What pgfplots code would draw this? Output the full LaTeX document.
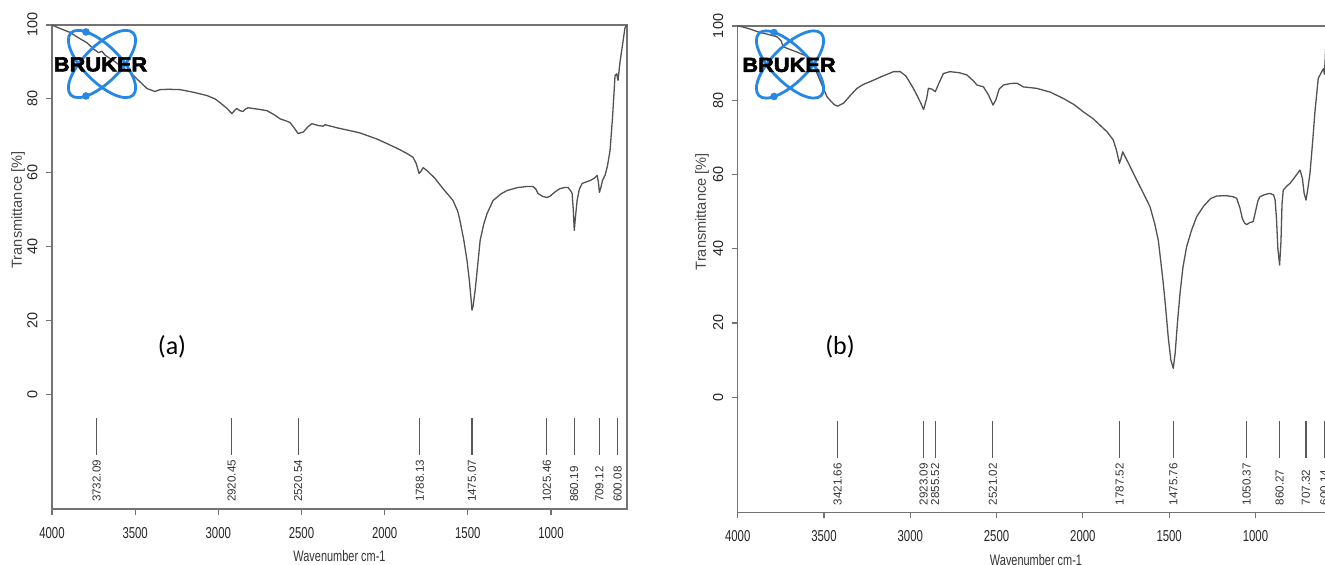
\documentclass[border=0pt]{standalone}
\usepackage{fontspec}
\setmainfont{Liberation Sans}
\newfontfamily\narrowfont[FakeStretch=0.72]{Liberation Sans}
\newfontfamily\logofont[FakeStretch=1.08,FakeBold=3]{Liberation Sans Bold}
\newfontfamily\calib{Carlito}
\usepackage{pgfplots}
\usepackage{pgfplotstable}
\pgfplotsset{compat=1.18}
\definecolor{brukerblue}{RGB}{38,136,228}

\pgfplotstableread{
x y
4000 100
3960 99.2
3892 98
3840 96.5
3790 95.2
3750 93.5
3720 92.5
3700 92.9
3680 91.8
3620 90
3560 88
3531 87.2
3480 85
3429 82.8
3381 82
3351 82.5
3300 82.6
3230 82.5
3150 81.8
3068 80.9
3020 80
2990 79
2950 77.5
2918 76
2900 77
2888 77.4
2870 76.8
2852 76.6
2835 77.3
2821 77.6
2760 77.2
2707 76.8
2660 75.6
2629 74.6
2590 74
2569 73.6
2545 72.2
2520 70.6
2500 70.9
2490 71
2460 72.5
2437 73.3
2400 72.8
2370 72.6
2358 73
2340 72.8
2280 72.1
2208 71.4
2150 70.8
2106 70.1
2050 69.2
1986 67.9
1920 66.5
1865 65.2
1830 64.2
1810 62.5
1793 59.8
1780 60.5
1769 61.4
1745 60.6
1700 58.6
1649 55.7
1589 52.5
1560 49.5
1547 47
1525 42
1505 36.3
1490 30.5
1480 25.5
1475 22.8
1468 24
1456 28.2
1445 33
1426 41.7
1405 46
1384 49
1348 52.5
1300 54.3
1264 55.2
1200 56
1144 56.3
1108 56.3
1090 55.5
1078 54.4
1050 53.6
1024 53.3
1005 53.7
987 54.4
965 55.2
945 55.7
920 56
897 56
880 55
873 54.4
866 50
860 44.4
853 48
843 52.5
830 55.5
813 57.1
790 57.5
765 57.9
740 58.5
723 59.3
715 57.5
709 54.7
700 56
690 58
675 59.3
660 62
645 66
630 75
615 86.3
605 86.8
597 85
585 90
572 94
555 99.3
543 100
}\specA

\pgfplotstableread{
x y
4000 100
3975 99.8
3930 99.2
3888 98.5
3830 97.8
3773 97.1
3748 96
3737 94.4
3698 93.7
3658 93
3617 92.2
3580 91.3
3556 89.5
3540 87.2
3511 84
3482 80.9
3455 79.5
3440 78.8
3421 78.4
3387 79.2
3345 81.4
3309 83.2
3270 84.3
3233 85
3165 86.4
3097 87.7
3058 87.7
3025 86.5
3000 84.6
2980 83
2962 81.4
2940 79.3
2923 77.5
2905 80.5
2895 83.2
2875 83
2855 82.3
2835 84.5
2808 87.2
2770 87.7
2715 87.4
2672 86.8
2634 85.2
2614 84.1
2576 83.6
2548 81.5
2533 80
2521 78.7
2505 80
2485 83
2460 84.1
2420 84.5
2382 84.6
2345 83.6
2268 83.2
2190 82.2
2114 80.5
2050 78.8
1998 76.9
1940 75
1901 73.3
1860 71.5
1824 69.3
1805 66.5
1788 63
1778 64.5
1769 66.1
1730 62.5
1688 58.5
1650 55
1611 51.3
1585 47
1563 42.3
1547 36
1534 30.6
1520 24
1505 16
1490 10
1476 7.8
1465 12
1452 20
1437 28
1420 35
1399 40.5
1370 45
1341 48.6
1300 51.5
1260 53.5
1225 54.2
1170 54.3
1130 54
1109 53.6
1090 51
1075 48
1061 46.8
1050 46.5
1035 47
1013 47.3
1000 50
985 53
974 54
945 54.6
916 54.9
895 54.5
886 53.1
878 48
870 40
860 35.6
852 42
846 52
839 55.8
820 56.8
800 57.6
770 59.4
742 61.2
728 59
718 55
707 53.1
697 56
684 60.3
670 68
655 77
636 85.9
616 87.7
606 88.5
600 87
593 94
580 98
560 99.5
543 100
}\specB

\tikzset{
  peaklabel/.style={font=\fontsize{5.8}{6}\selectfont, text=black!80, rotate=90, anchor=west, inner sep=0pt},
}
\pgfplotsset{
  irstyle/.style={
    scale only axis,
    x dir=reverse,
    xmin=543, xmax=4000,
    ymin=-31, ymax=100,
    xtick={1000,1500,...,4000},
    ytick={0,20,...,100},
    tick align=outside,
    xtick pos=bottom, ytick pos=left,
    major tick length=3pt,
    axis line style={draw=black!55, line width=0.6pt},
    every tick/.style={draw=black!55, line width=0.6pt},
    /pgf/number format/assume math mode=true,
    /pgf/number format/1000 sep={},
    xticklabel style={font=\narrowfont\fontsize{7.9}{8}\selectfont, text=black!85, inner sep=0pt, anchor=north},
    xticklabel shift=6pt,
    yticklabel style={font=\fontsize{7.2}{8}\selectfont, text=black!85, rotate=90, anchor=south, inner sep=0pt},
    yticklabel shift=4pt,
    xlabel={Wavenumber cm-1},
    ylabel={Transmittance [\%]},
    xlabel style={font=\narrowfont\fontsize{7.6}{8}\selectfont, text=black!80, at={(axis description cs:0.5,0)}, anchor=center, inner sep=0pt},
    ylabel style={font=\fontsize{7.3}{8}\selectfont, text=black!72, anchor=center, inner sep=0pt},
  },
  spec/.style={draw=black!68, line width=0.65pt, mark=none, line join=round},
  peakline/.style={draw=black!65, line width=0.55pt, mark=none, forget plot},
}

\begin{document}
\begin{tikzpicture}
\useasboundingbox (0,0) rectangle (662.5pt,282.5pt);

% ---------- panel (a)
\begin{axis}[irstyle,
  at={(26pt,28pt)}, anchor=south west,
  width=287.5pt, height=242pt,
  xlabel style={yshift=-23.5pt},
  ylabel style={at={(axis description cs:-0.059,0.618)}},
]
\addplot[spec] table[x=x,y=y] {\specA};
\pgfplotsinvokeforeach{3732.09,2920.45,2520.54,1788.13,1475.07,1025.46,860.19,709.12,600.08}{
  \addplot[peakline] coordinates {(#1,-6.5) (#1,-16.5)};
  \node[peaklabel] at (axis cs:#1,-29.2) {#1};
}
\end{axis}

% ---------- panel (b)
\begin{axis}[irstyle,
  at={(368.85pt,26.35pt)}, anchor=south west,
  width=298.3pt, height=243.15pt,
  xlabel style={yshift=-23.8pt},
  ylabel style={at={(axis description cs:-0.0598,0.618)}},
]
\addplot[spec] table[x=x,y=y] {\specB};
\pgfplotsinvokeforeach{3421.66,2923.09,2855.52,2521.02,1787.52,1475.76,1050.37,860.27,707.32,600.14}{
  \addplot[peakline] coordinates {(#1,-6.5) (#1,-16.5)};
  \node[peaklabel] at (axis cs:#1,-29.2) {#1};
}
\end{axis}

% ---------- BRUKER logos
\foreach \cx/\cy/\tx/\ty in {51/250.5/50.25/250.25, 395/250.25/394.5/250}{
  \draw[brukerblue, line width=1.4pt, rotate around={-45:(\cx pt,\cy pt)}]
     (\cx pt,\cy pt) ellipse [x radius=22pt, y radius=9pt];
  \draw[brukerblue, line width=1.4pt, rotate around={45:(\cx pt,\cy pt)}]
     (\cx pt,\cy pt) ellipse [x radius=22pt, y radius=9pt];
  \fill[brukerblue] ({\cx pt-8pt},{\cy pt+16pt}) circle (1.9pt);
  \fill[brukerblue] ({\cx pt-8pt},{\cy pt-16pt}) circle (1.9pt);
  \node[font=\logofont\fontsize{10.1}{11}\selectfont, text=black, inner sep=0pt] at (\tx pt,\ty pt) {BRUKER};
}

% ---------- panel letters
\node[font=\calib\fontsize{13}{15}\selectfont, inner sep=0pt] at (86pt,109pt) {(a)};
\node[font=\calib\fontsize{13}{15}\selectfont, inner sep=0pt] at (420pt,109pt) {(b)};
\end{tikzpicture}
\end{document}
